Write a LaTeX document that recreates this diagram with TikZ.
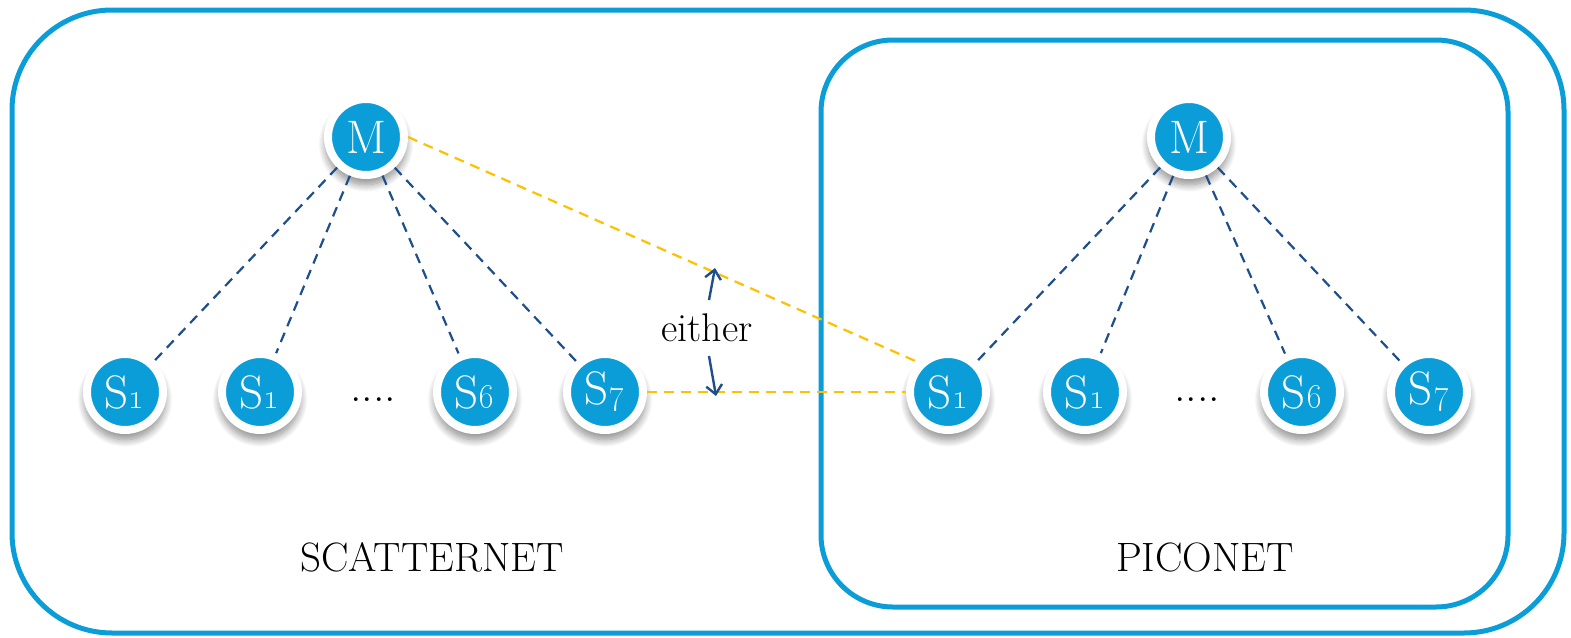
\documentclass[tikz,border=0pt]{standalone}
\usetikzlibrary{shadows,shadows.blur,arrows.meta}
\definecolor{netblue}{HTML}{0A9DD8}
\definecolor{linkblue}{HTML}{1F4E8C}
\definecolor{bridge}{HTML}{FFC000}
\tikzset{
  dev/.style={circle, fill=netblue, draw=white, line width=8pt,
    minimum size=76pt, inner sep=0pt, text=white,
    font=\fontsize{47}{47}\selectfont,
    blur shadow={shadow xshift=0pt, shadow yshift=-7pt, shadow scale=1.06,
      shadow blur radius=7pt, shadow blur steps=12, shadow opacity=45}},
  frame/.style={draw=netblue, line width=5pt},
  link/.style={draw=linkblue, line width=2.2pt, dash pattern=on 10pt off 7pt},
  bridgelink/.style={draw=bridge, line width=2.2pt, dash pattern=on 10pt off 7pt},
  ptr/.style={draw=linkblue, line width=2.4pt,
    -{Straight Barb[length=9pt,width=16pt,line width=2.4pt]}},
  dotsep/.style={font=\fontsize{46}{46}\selectfont, anchor=base, inner sep=0pt},
  caption/.style={font=\fontsize{41}{41}\selectfont},
}
\begin{document}
\begin{tikzpicture}[x=1pt,y=-1pt]
  \useasboundingbox (0,0) rectangle (1571,637);

  % scatternet and piconet frames
  \draw[frame, rounded corners=100pt] (12,10) rectangle (1564,633);
  \draw[frame, rounded corners=72pt] (821,40) rectangle (1508,607);

  % left piconet
  \node[dev] (lM)  at (366,137) {M};
  \node[dev] (lA)  at (125,392) {S\oldstylenums{1}};
  \node[dev] (lB)  at (260,392) {S\oldstylenums{1}};
  \node[dotsep] (lD) at (373,401) {....};
  \node[dev] (lS6) at (475,392) {S\oldstylenums{6}};
  \node[dev] (lS7) at (605,392) {S\oldstylenums{7}};

  % right piconet
  \node[dev] (rM)  at (1189,137) {M};
  \node[dev] (rA)  at (948,392) {S\oldstylenums{1}};
  \node[dev] (rB)  at (1085,392) {S\oldstylenums{1}};
  \node[dotsep] (rD) at (1197,401) {....};
  \node[dev] (rS6) at (1302,392) {S\oldstylenums{6}};
  \node[dev] (rS7) at (1429,392) {S\oldstylenums{7}};

  % master-slave links
  \foreach \s in {lA,lB,lS6,lS7} \draw[link] (lM) -- (\s);
  \foreach \s in {rA,rB,rS6,rS7} \draw[link] (rM) -- (\s);

  % bridging links
  \draw[bridgelink] (lM.east) -- (rA.north west);
  \draw[bridgelink] (lS7) -- (rA);

  % either label and pointers
  \node[caption, font=\fontsize{40}{40}\selectfont] (either) at (707,328) {either};
  \coordinate (upA) at (709,300);
  \coordinate (upB) at (715,268);
  \coordinate (dnA) at (709,356);
  \coordinate (dnB) at (716,396);
  \draw[ptr] (upA) -- (upB);
  \draw[ptr] (dnA) -- (dnB);

  % captions
  \node[caption] (scat) at (432,557) {SCATTERNET};
  \node[caption] (pico) at (1205,557) {PICONET};
\end{tikzpicture}
\end{document}
